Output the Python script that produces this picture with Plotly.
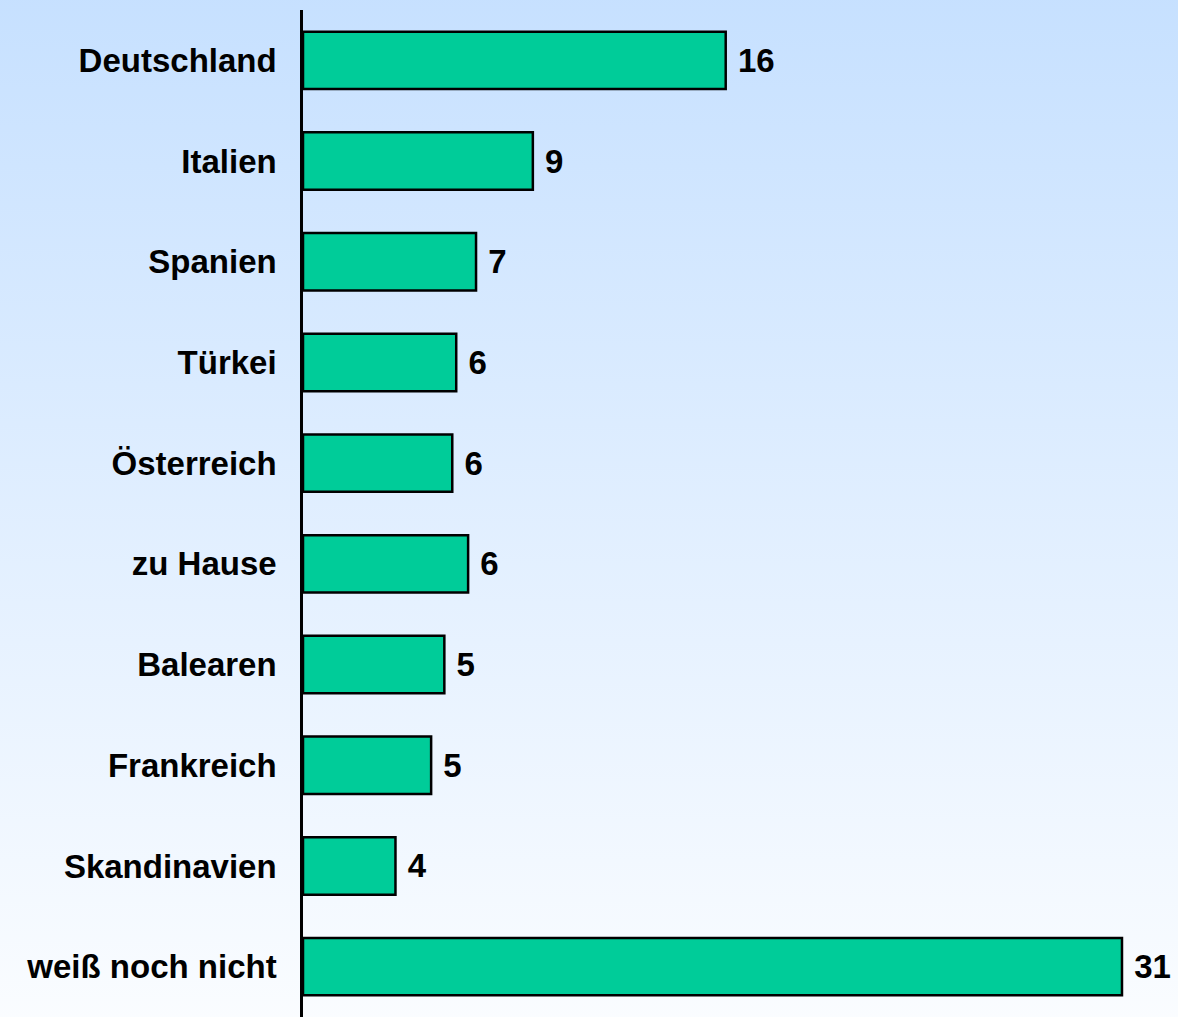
import base64
import plotly.graph_objects as go

# Reiseziele (Angaben in %)
categories = ["Deutschland", "Italien", "Spanien", "Türkei", "Österreich",
              "zu Hause", "Balearen", "Frankreich", "Skandinavien", "weiß noch nicht"]
values = [16.0, 8.7, 6.55, 5.8, 5.65, 6.25, 5.35, 4.85, 3.5, 31.0]
value_labels = ["16", "9", "7", "6", "6", "6", "5", "5", "4", "31"]

# background gradient (light blue -> white) as an inline svg
svg = ('<svg xmlns="http://www.w3.org/2000/svg" width="100" height="100" preserveAspectRatio="none">'
       '<defs><linearGradient id="g" x1="0" y1="0" x2="0" y2="1">'
       '<stop offset="0" stop-color="#c2deff"/><stop offset="1" stop-color="#ffffff"/>'
       '</linearGradient></defs><rect width="100" height="100" fill="url(#g)"/></svg>')
bg_uri = "data:image/svg+xml;base64," + base64.b64encode(svg.encode()).decode()

font_bold = dict(family="Liberation Sans, Arial", size=33, color="black", weight="bold")

fig = go.Figure(
    go.Bar(
        x=values,
        y=categories,
        orientation="h",
        text=[" " + t for t in value_labels],
        textposition="outside",
        cliponaxis=False,
        textfont=font_bold,
        marker=dict(color="#00cc99", line=dict(color="black", width=2.5)),
    )
)

fig.update_layout(
    width=1178,
    height=1017,
    margin=dict(l=303, r=0, t=10, b=0),
    paper_bgcolor="rgba(0,0,0,0)",
    plot_bgcolor="rgba(0,0,0,0)",
    bargap=0.43,
    showlegend=False,
    font=dict(family="Liberation Sans, Arial", color="black"),
    images=[dict(source=bg_uri, xref="paper", yref="paper", x=-1, y=1.1,
                 sizex=3, sizey=1.2, sizing="stretch", layer="below",
                 xanchor="left", yanchor="top")],
)

fig.update_xaxes(range=[0, 33.12], visible=False, showgrid=False, zeroline=False)
fig.update_yaxes(
    autorange="reversed",
    showline=True,
    linecolor="black",
    linewidth=2.5,
    showgrid=False,
    ticks="",
    ticklabelstandoff=17,
    tickfont=font_bold,
)

# drop the default page margin so the chart sits flush in the window
fig.write_html("out.html", config={"displayModeBar": False},
               post_script="document.body.style.margin='0';")
